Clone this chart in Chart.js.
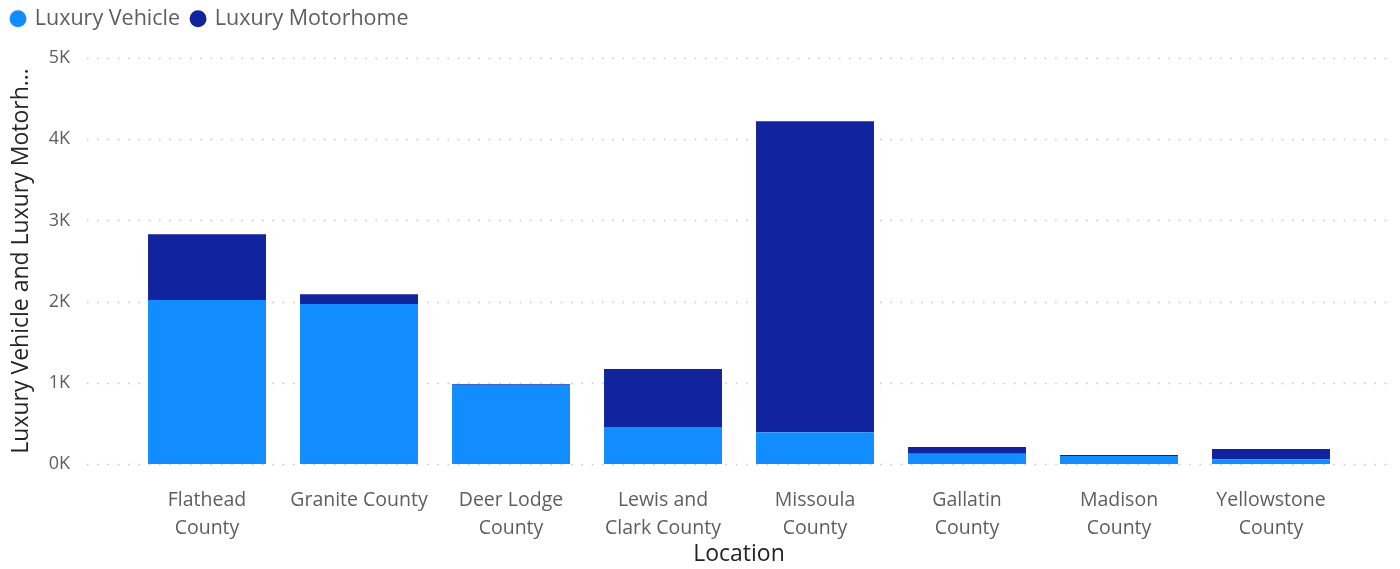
<!DOCTYPE html>
<html>
<head>
<meta charset="utf-8">
<script src="https://cdn.jsdelivr.net/npm/chart.js@4/dist/chart.umd.min.js"></script>
<style>
  html, body { margin: 0; padding: 0; background: #fff; }
  #wrap { width: 1400px; height: 569px; position: relative; }
</style>
</head>
<body>
<div id="wrap"><canvas id="chart"></canvas></div>
<script>
// Data
const locations = [
  ['Flathead', 'County'],
  'Granite County',
  ['Deer Lodge', 'County'],
  ['Lewis and', 'Clark County'],
  ['Missoula', 'County'],
  ['Gallatin', 'County'],
  ['Madison', 'County'],
  ['Yellowstone', 'County']
];
const luxuryVehicle = [2020, 1970, 975, 455, 390, 125, 100, 60];
const luxuryMotorhome = [810, 120, 10, 715, 3830, 85, 10, 125];
const yTicks = [0, 1000, 2000, 3000, 4000, 5000];

const FONT = "'Segoe UI', 'Open Sans', sans-serif";
const textGrey = '#605E5C';
const titleDark = '#252423';

// dotted gridlines that run wider than the bars, like Power BI
const dottedGrid = {
  id: 'dottedGrid',
  beforeDatasetsDraw(chart) {
    const { ctx, scales: { y } } = chart;
    ctx.save();
    ctx.strokeStyle = '#C8C6C4';
    ctx.lineWidth = 1.5;
    ctx.setLineDash([1.5, 8.8]);
    yTicks.forEach(v => {
      const py = Math.round(y.getPixelForValue(v)) + 0.5;
      ctx.beginPath();
      ctx.moveTo(87, py);
      ctx.lineTo(1388, py);
      ctx.stroke();
    });
    ctx.restore();
  }
};

// legend box: fixed height, and pinned to the top edge
const legendPlace = {
  id: 'legendPlace',
  beforeInit(chart) {
    const fit = chart.legend.fit;
    chart.legend.fit = function () {
      fit.bind(chart.legend)();
      this.height = 58;
    };
  },
  afterLayout(chart) {
    const lg = chart.legend;
    const h = lg.bottom - lg.top;
    lg.top = -4;
    lg.bottom = lg.top + h;
  }
};

new Chart(document.getElementById('chart'), {
  type: 'bar',
  data: {
    labels: locations,
    datasets: [
      {
        label: 'Luxury Vehicle',
        data: luxuryVehicle,
        backgroundColor: '#118DFF'
      },
      {
        label: 'Luxury Motorhome',
        data: luxuryMotorhome,
        backgroundColor: '#12239E'
      }
    ]
  },
  options: {
    responsive: true,
    maintainAspectRatio: false,
    animation: false,
    layout: { padding: { left: 0, right: 53, top: 0, bottom: 0 } },
    datasets: {
      bar: { categoryPercentage: 1, barPercentage: 0.776 }
    },
    scales: {
      x: {
        stacked: true,
        grid: { display: false, drawTicks: false },
        border: { display: false },
        ticks: {
          color: textGrey,
          font: { family: FONT, size: 19.5, lineHeight: 1.44 },
          padding: 22,
          maxRotation: 0,
          autoSkip: false
        },
        title: {
          display: true,
          text: 'Location',
          color: titleDark,
          font: { family: FONT, size: 23 },
          padding: { top: 0, bottom: 1 }
        },
        afterFit(scale) { scale.height = 105; }
      },
      y: {
        stacked: true,
        min: 0,
        max: 5000,
        grid: { display: false, drawTicks: false },
        border: { display: false },
        afterBuildTicks(scale) { scale.ticks = yTicks.map(v => ({ value: v })); },
        ticks: {
          color: textGrey,
          font: { family: FONT, size: 18 },
          padding: 61,
          callback: v => (v / 1000) + 'K'
        },
        title: {
          display: true,
          text: 'Luxury Vehicle and Luxury Motorh…',
          color: titleDark,
          font: { family: FONT, size: 23 },
          padding: { top: 8, bottom: 0 }
        },
        afterFit(scale) {
          scale.width = 131;
          scale.paddingTop = 0;
          scale.paddingBottom = 0;
        }
      }
    },
    plugins: {
      legend: {
        position: 'top',
        align: 'start',
        labels: {
          usePointStyle: true,
          pointStyle: 'circle',
          boxWidth: 12,
          boxHeight: 12,
          padding: 12,
          color: textGrey,
          font: { family: FONT, size: 21.5 }
        }
      },
      tooltip: { enabled: false }
    }
  },
  plugins: [dottedGrid, legendPlace]
});
</script>
</body>
</html>
